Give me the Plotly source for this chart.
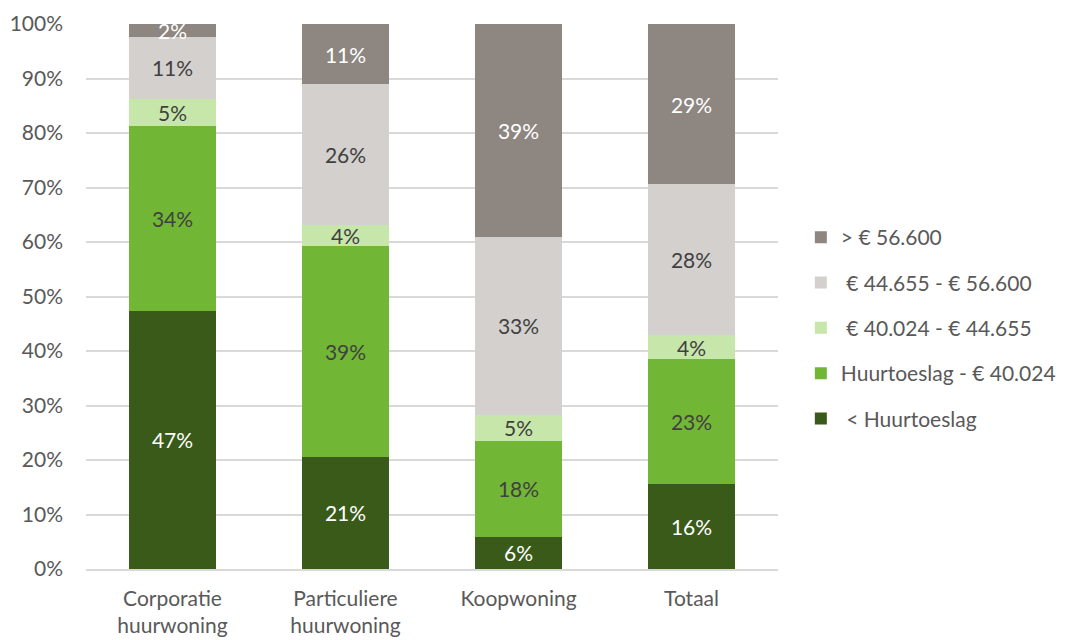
import plotly.graph_objects as go

categories = ["Corporatie<br>huurwoning", "Particuliere<br>huurwoning", "Koopwoning", "Totaal"]

series_names = ["\u00a0< Huurtoeslag", "Huurtoeslag - € 40.024", "\u00a0€ 40.024 - € 44.655",
                "\u00a0€ 44.655 - € 56.600", "> € 56.600"]

lt_huurtoeslag = [47.4, 20.6, 5.9, 15.6]
huurtoeslag_40024 = [33.9, 38.7, 17.6, 22.9]
r40024_44655 = [5.0, 3.8, 4.8, 4.4]
r44655_56600 = [11.4, 25.8, 32.6, 27.7]
gt_56600 = [2.3, 11.1, 39.1, 29.4]

values = [lt_huurtoeslag, huurtoeslag_40024, r40024_44655, r44655_56600, gt_56600]
colors = ["#3A5A19", "#72B636", "#C7E6AA", "#D3D0CD", "#8E8680"]
text_colors = ["#FFFFFF", "#404040", "#404040", "#404040", "#FFFFFF"]

FONT = "Lato"

fig = go.Figure()
n = len(series_names)
for i, (name, vals, col, tcol) in enumerate(zip(series_names, values, colors, text_colors)):
    fig.add_trace(go.Bar(
        x=categories, y=vals, name=name, legendgroup=name, legendrank=n - i,
        marker=dict(color=col, line=dict(width=0)),
        texttemplate="%{y:.0f}%", textposition="inside", insidetextanchor="middle",
        textfont=dict(family=FONT, size=21, color=tcol),
        hoverinfo="skip",
    ))

fig.update_layout(
    barmode="stack", bargap=0.5,
    width=1065, height=640,
    margin=dict(l=78, r=290, t=16, b=79),
    paper_bgcolor="white", plot_bgcolor="white",
    font=dict(family=FONT, size=21, color="#595959"),
    uniformtext=dict(minsize=21, mode="show"),
    legend=dict(traceorder="grouped", x=1.033, xanchor="left", y=0.442, yanchor="middle",
                tracegroupgap=15, font=dict(family=FONT, size=21, color="#595959"),
                bgcolor="rgba(0,0,0,0)"),
    showlegend=True,
)
fig.update_yaxes(range=[0, 100], dtick=10, ticksuffix="%", showgrid=True,
                 gridcolor="#D9D9D9", gridwidth=1.5, zeroline=False, automargin=False,
                 tickfont=dict(family=FONT, size=21, color="#595959"), ticklabelstandoff=22,
                 showline=False, fixedrange=True)
fig.update_xaxes(showline=True, linecolor="#D9D9D9", linewidth=1.5, ticklabelstandoff=10,
                 automargin=False,
                 tickfont=dict(family=FONT, size=21, color="#595959"), fixedrange=True)

fig.write_html("out.html")
